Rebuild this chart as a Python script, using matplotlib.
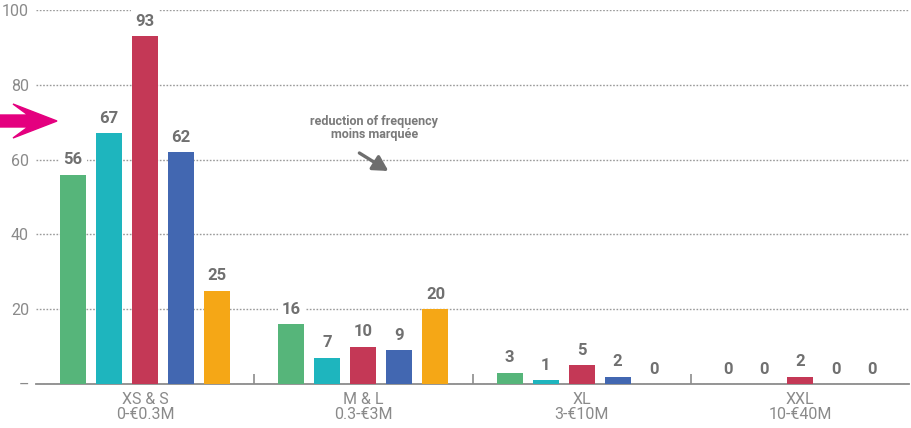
import matplotlib
matplotlib.use("Agg")
import matplotlib.pyplot as plt
from matplotlib.patches import Polygon
import numpy as np

plt.rcParams['font.family'] = ['Roboto', 'DejaVu Sans']

# Size bands and the five series per band
categories = ["XS & S\n0-€0.3M", "M & L\n0.3-€3M", "XL\n3-€10M", "XXL\n10-€40M"]
series_1 = [56, 16, 3, 0]
series_2 = [67, 7, 1, 0]
series_3 = [93, 10, 5, 2]
series_4 = [62, 9, 2, 0]
series_5 = [25, 20, 0, 0]
series = [series_1, series_2, series_3, series_4, series_5]
colors = ["#56B57A", "#1EB5BE", "#C43856", "#4267B1", "#F5A716"]
y_ticks = [0, 20, 40, 60, 80, 100]
y_tick_labels = ["–", "20", "40", "60", "80", "100"]

text_gray = "#8a8a8a"
value_gray = "#707070"

W, H = 911, 428
fig = plt.figure(figsize=(W / 100, H / 100), dpi=100)
ax = fig.add_axes([36 / W, 44 / H, 873 / W, 374 / H])

x = np.arange(len(categories))
step = 36 / 218
width = 26 / 218
for i, (vals, col) in enumerate(zip(series, colors)):
    pos = x + (i - 2) * step
    ax.bar(pos, vals, width=width, color=col, zorder=3)
    for p, v in zip(pos, vals):
        ax.text(p, v + 2.0, str(v), ha="center", va="bottom", fontsize=12,
                fontweight="bold", color=value_gray, clip_on=False, zorder=4,
                bbox=dict(boxstyle="square,pad=0.25", fc="white", ec="none"))

ax.set_xlim(-0.5, 3.5)
ax.set_ylim(0, 100)

for s in ["top", "right", "left"]:
    ax.spines[s].set_visible(False)
ax.spines["bottom"].set_color("#8c8c8c")
ax.spines["bottom"].set_linewidth(1.3)

ax.set_yticks(y_ticks)
ax.set_yticklabels(y_tick_labels, fontsize=11.5, color=text_gray)
ax.tick_params(axis="y", length=0, pad=5)
ax.yaxis.grid(True, linestyle=(0, (1.2, 1.2)), color="#9a9a9a", linewidth=1.0, zorder=0)

# Group separators as minor ticks, labels as major ticks (no tick marks)
ax.set_xticks(x)
ax.set_xticklabels(categories, fontsize=11.5, color=text_gray, linespacing=0.95)
ax.set_xticks([0.5, 1.5, 2.5], minor=True)
ax.tick_params(axis="x", which="major", length=0, pad=6)
ax.tick_params(axis="x", which="minor", length=7, width=1.2, color="#8c8c8c", direction="in")

# Pink pointer on the left margin (figure pixel coordinates, origin top-left)
pointer_px = [(0, 115), (28, 115), (13, 104), (57, 121), (13, 138), (28, 127), (0, 127)]
fig.patches.append(Polygon([(px / W, 1 - py / H) for px, py in pointer_px],
                           closed=True, color="#E4007F", transform=fig.transFigure))


def to_data(px, py):
    return (px - 36) / 218 - 0.5, (384 - py) / 3.74


ax.text(*to_data(374, 128), "reduction of frequency\nmoins marquée",
        ha="center", va="center", fontsize=9, fontweight="bold",
        color="#7a7a7a", linespacing=1.0, zorder=4)
ax.annotate("", xy=to_data(388, 171), xytext=to_data(359, 153),
            arrowprops=dict(arrowstyle="-|>,head_length=0.9,head_width=0.5",
                            color="#6e6e6e", lw=2.4, shrinkA=0, shrinkB=0))

fig.savefig("out.png", dpi=100)
